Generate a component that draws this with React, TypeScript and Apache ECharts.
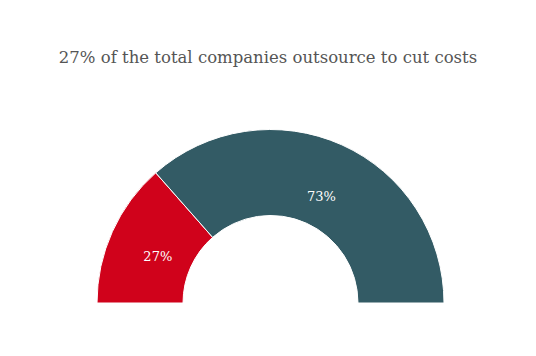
import React, { useEffect, useRef } from "react";
import * as echarts from "echarts";

const titleText = "27% of the total companies outsource to cut costs";
const categories = ["Cut costs", "Other"];
const values = [27, 73];
const colors = ["#d0021b", "#335b65"];
const labelOffsets = [[9, 8], [-4, 15]];

export default function App() {
  const ref = useRef<HTMLDivElement>(null);
  useEffect(() => {
    const chart = echarts.init(ref.current!, null, { renderer: "svg" });
    chart.setOption({
      animation: false,
      backgroundColor: "#ffffff",
      title: {
        text: titleText,
        left: "center",
        top: 44,
        textStyle: {
          fontFamily: "DejaVu Serif",
          fontSize: 16.5,
          fontWeight: "normal",
          color: "#555555",
        },
      },
      series: [
        {
          type: "pie",
          center: [270.5, 303],
          radius: [87.5, 173.5],
          startAngle: 180,
          endAngle: 0,
          clockwise: true,
          data: categories.map((c, i) => ({
            name: c,
            value: values[i],
            itemStyle: { color: colors[i] },
            label: { offset: labelOffsets[i] },
          })),
          itemStyle: { borderColor: "#ffffff", borderWidth: 1 },
          label: {
            position: "inside",
            formatter: (p: any) => p.value + "%",
            color: "#ffffff",
            fontFamily: "DejaVu Serif",
            fontSize: 13,
          },
          labelLine: { show: false },
        },
      ],
    });
    return () => chart.dispose();
  }, []);
  return (
    <div
      ref={ref}
      style={{ position: "absolute", left: 0, top: 0, width: 536, height: 356 }}
    />
  );
}
